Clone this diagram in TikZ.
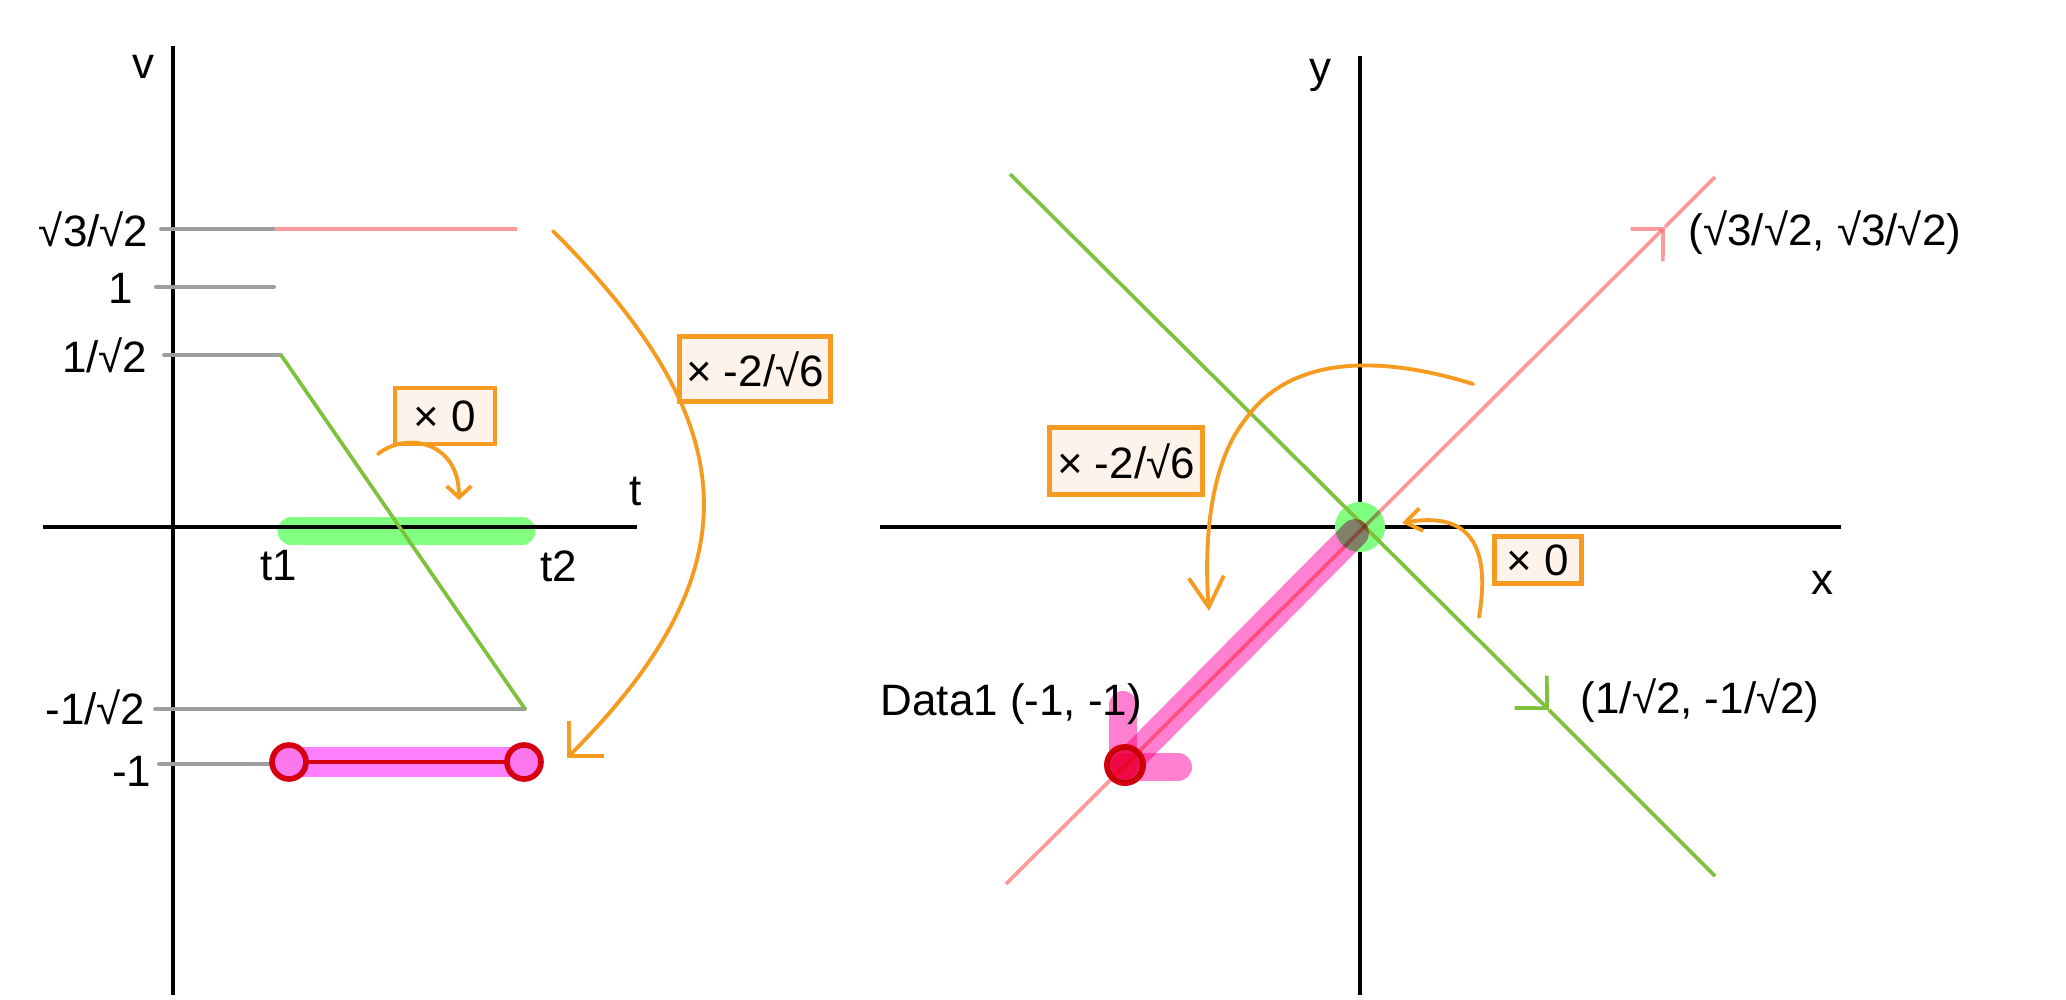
\documentclass[tikz,border=0pt]{standalone}
\usepackage{fontspec}
\setmainfont{Liberation Sans}
\usepackage{xcolor}
\usepackage{tikz}
\usetikzlibrary{arrows.meta}
\definecolor{orng}{HTML}{F59B20}
\definecolor{boxfill}{HTML}{FDF3EA}
\definecolor{pnk}{HTML}{FF9A9A}
\definecolor{grn}{HTML}{7DC23A}
\definecolor{lgrn}{HTML}{80FF80}
\definecolor{mgnt}{HTML}{FF80FF}
\definecolor{mgntb}{HTML}{FF80D0}
\definecolor{rd}{HTML}{D40010}
\definecolor{gry}{HTML}{9E9E9E}

\begin{document}
\begin{tikzpicture}[x=0.01cm,y=-0.01cm,font=\fontsize{12.5}{14}\selectfont,
	axis/.style={line width=1.2pt},
	ticks/.style={gry,line width=1.1pt,line cap=round},
	thin/.style={line width=1.05pt},
	hl/.style={line width=#1,line cap=round},
	factor/.style={draw=orng,fill=boxfill,line width=1.3pt,inner sep=0pt},
	turn/.style={orng,line width=1.1pt,line cap=round},
	lbl/.style={inner sep=0pt}]
	\useasboundingbox (0,0) rectangle (2066,1000);

%	left: v over t
	\draw[lgrn,hl=0.27cm] (291,531) coordinate (g1) -- (522,531) coordinate (g2);
	\draw[axis] (173,46) coordinate (vtop) -- (173,995) coordinate (vbot);
	\draw[axis] (43,527) coordinate (tl) -- (637,527) coordinate (tr);
	\node (v) at (143,67) {v};
	\node (t) at (636,491) {t};
	\node (t1) at (279,566) {t1};
	\node (t2) at (559,566) {t2};

	\node[lbl,anchor=east] (ls3) at (149,229) {√3/√2};
	\node[lbl] (lone) at (121,288) {1};
	\node[lbl,anchor=east] (lis2) at (148,355) {1/√2};
	\node[lbl,anchor=east] (lmis2) at (146,707) {-1/√2};
	\node[lbl,anchor=east] (lmone) at (152,771) {-1};

	\draw[ticks] (161,229) -- (275,229) coordinate (p1);
	\draw[ticks] (156,287) -- (274,287);
	\draw[ticks] (164,355) -- (281,355) coordinate (q1);
	\draw[ticks] (155,709) -- (525,709) coordinate (q2);
	\draw[ticks] (159,764) -- (289,764);
	\draw[pnk,thin] (p1) -- (517,229);
	\draw[grn,thin] (q1) -- (q2);

	\draw[mgnt,line width=0.29cm] (280,762) -- (533,762);
	\draw[rd,line width=1.4pt] (289,762) coordinate (d1) -- (524,762) coordinate (d2);
	\foreach \p in {d1,d2}
		\draw[rd,line width=1.6pt,fill=mgnt!92!rd] (\p) circle[radius=17];

	\node[factor,minimum width=1cm,minimum height=0.56cm] (f0l) at (445,416) {× 0};
	\node[factor,minimum width=1.51cm,minimum height=0.65cm] (f26l) at (755,369) {× -2/√6};

	\draw[turn,-{Straight Barb[length=3.2pt,width=7pt]}] (378,454) .. controls (405,432) and (459,440) .. (459,500);
	\draw[turn,-{Straight Barb[length=7pt,width=14pt]}] (553,231) .. controls (744,422) and (758,567) .. (567,758);

%	right: y over x
	\draw[axis] (1360,56) -- (1360,995);
	\draw[axis] (880,527) -- (1841,527);
	\node (y) at (1320,75) {y};
	\node (x) at (1822,583) {x};

	\fill[lgrn] (1360,527) coordinate (o) circle[radius=25];
	\draw[grn,thin,-{Straight Barb[length=6.6pt,width=13pt]}] (1010,174) -- (1549,710) coordinate (gtip);
	\draw[grn,thin] (gtip) -- (1715,876);

	\begin{scope}[blend mode=multiply]
	\draw[mgntb,hl=0.28cm] (1355,533) -- (1125,765) coordinate (d3);
	\draw[mgntb,hl=0.28cm] (1123,705) -- (1123,767);
	\draw[mgntb,hl=0.28cm] (1123,767) -- (1178,767);
	\draw[pnk,thin,-{Straight Barb[length=6.6pt,width=13pt]}] (1006,884) -- (1665,227) coordinate (ptip);
	\draw[pnk,thin] (ptip) -- (1715,177);
	\draw[rd,line width=1.7pt,fill=rd!40!mgntb] (d3) circle[radius=18];
	\end{scope}

	\node[lbl,anchor=west] (data) at (880,704) {Data1 (-1, -1)};
	\node[lbl,anchor=west] (lp) at (1688,233) {(√3/√2, √3/√2)};
	\node[lbl,anchor=west] (lg) at (1580,701) {(1/√2, -1/√2)};

	\node[factor,minimum width=1.53cm,minimum height=0.67cm] (f26r) at (1126,461) {× -2/√6};
	\node[factor,minimum width=0.87cm,minimum height=0.47cm] (f0r) at (1538,560) {× 0};

	\draw[turn,-{Straight Barb[length=8.6pt,width=10pt]}] (1473,384) .. controls (1380,355) and (1290,355) .. (1245,420) .. controls (1205,470) and (1205,560) .. (1209,611);
	\draw[turn,-{Straight Barb[length=4.6pt,width=6.5pt]}] (1479,617) .. controls (1492,540) and (1465,512) .. (1402,523);
\end{tikzpicture}
\end{document}
